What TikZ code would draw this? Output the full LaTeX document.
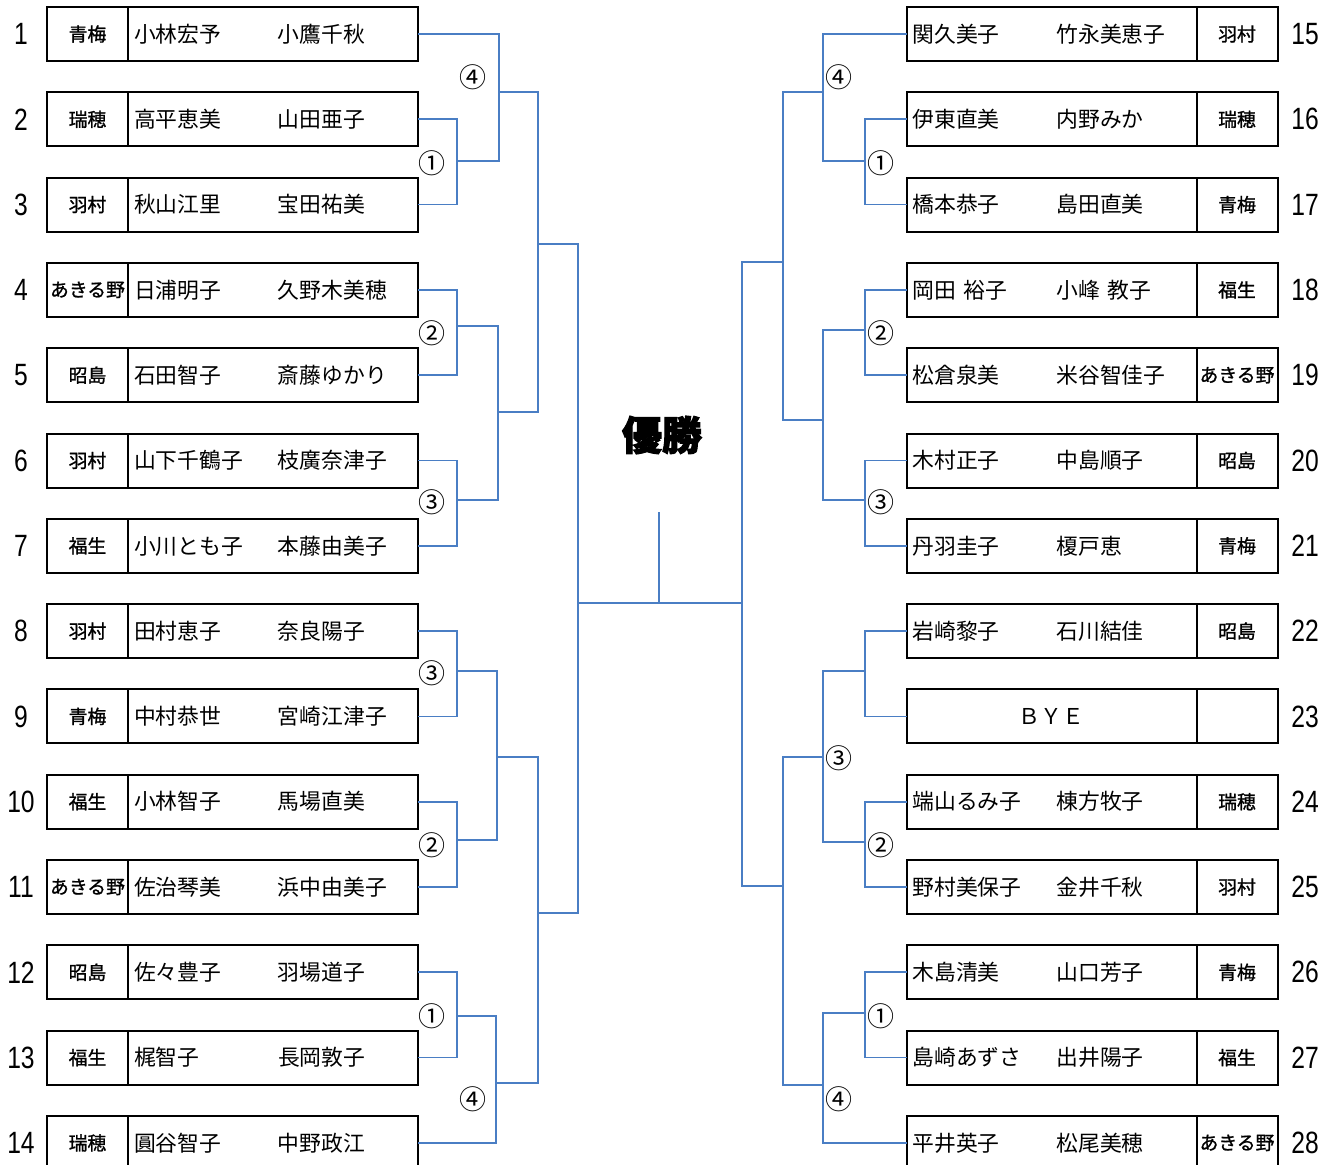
\documentclass[tikz,border=0pt]{standalone}
\usepackage{fontspec}
\setmainfont{Noto Sans CJK JP}
\newfontfamily\numfont[FakeStretch=0.8]{Liberation Sans}
\newfontfamily\clubfont[FakeBold=1.2]{Noto Sans CJK JP}
\newfontfamily\winfont[BoldFeatures={FakeBold=2.5}]{Noto Sans CJK JP}
\usetikzlibrary{positioning}
\definecolor{bracketblue}{RGB}{74,126,196}
\newcommand\pair[2]{\makebox[72pt][l]{#1}#2}

\begin{document}
\begin{tikzpicture}[x=0.5pt,y=-0.5pt,
  club/.style = {draw, line width=1pt, inner sep=0pt, outer sep=0pt,
    minimum width=40.5pt, minimum height=27pt,
    font=\clubfont\fontsize{9.4}{10}\selectfont},
  names/.style = {draw, line width=1pt, inner xsep=3pt, inner ysep=0pt,
    outer sep=0pt, text width=139pt, minimum height=27pt, align=left,
    font=\fontsize{10.9}{12}\selectfont},
  num/.style = {font=\numfont\fontsize{15.4}{16}\selectfont},
  rnd/.style = {font=\fontsize{13.5}{14}\selectfont, inner sep=0pt},
  bline/.style = {draw=bracketblue, line width=0.85pt},
  node distance=0pt]
\useasboundingbox (0,0) rectangle (1333,1164);

% left half
\node[club] (c1) at (87.5,34) {青梅};
\node[names, right=of c1] (n1) {\pair{小林宏予}{小鷹千秋}};
\node[num] (p1) at (21,34) {1};
\node[club] (c2) at (87.5,119.3) {瑞穂};
\node[names, right=of c2] (n2) {\pair{高平恵美}{山田亜子}};
\node[num] (p2) at (21,119.3) {2};
\node[club] (c3) at (87.5,204.6) {羽村};
\node[names, right=of c3] (n3) {\pair{秋山江里}{宝田祐美}};
\node[num] (p3) at (21,204.6) {3};
\node[club] (c4) at (87.5,289.9) {あきる野};
\node[names, right=of c4] (n4) {\pair{日浦明子}{久野木美穂}};
\node[num] (p4) at (21,289.9) {4};
\node[club] (c5) at (87.5,375.2) {昭島};
\node[names, right=of c5] (n5) {\pair{石田智子}{斎藤ゆかり}};
\node[num] (p5) at (21,375.2) {5};
\node[club] (c6) at (87.5,460.5) {羽村};
\node[names, right=of c6] (n6) {\pair{山下千鶴子}{枝廣奈津子}};
\node[num] (p6) at (21,460.5) {6};
\node[club] (c7) at (87.5,545.8) {福生};
\node[names, right=of c7] (n7) {\pair{小川とも子}{本藤由美子}};
\node[num] (p7) at (21,545.8) {7};
\node[club] (c8) at (87.5,631.1) {羽村};
\node[names, right=of c8] (n8) {\pair{田村恵子}{奈良陽子}};
\node[num] (p8) at (21,631.1) {8};
\node[club] (c9) at (87.5,716.4) {青梅};
\node[names, right=of c9] (n9) {\pair{中村恭世}{宮崎江津子}};
\node[num] (p9) at (21,716.4) {9};
\node[club] (c10) at (87.5,801.7) {福生};
\node[names, right=of c10] (n10) {\pair{小林智子}{馬場直美}};
\node[num] (p10) at (21,801.7) {10};
\node[club] (c11) at (87.5,887) {あきる野};
\node[names, right=of c11] (n11) {\pair{佐治琴美}{浜中由美子}};
\node[num] (p11) at (21,887) {11};
\node[club] (c12) at (87.5,972.3) {昭島};
\node[names, right=of c12] (n12) {\pair{佐々豊子}{羽場道子}};
\node[num] (p12) at (21,972.3) {12};
\node[club] (c13) at (87.5,1057.6) {福生};
\node[names, right=of c13] (n13) {\pair{梶智子}{長岡敦子}};
\node[num] (p13) at (21,1057.6) {13};
\node[club] (c14) at (87.5,1142.9) {瑞穂};
\node[names, right=of c14] (n14) {\pair{圓谷智子}{中野政江}};
\node[num] (p14) at (21,1142.9) {14};

% right half
\node[names] (n15) at (1051.5,34) {\pair{関久美子}{竹永美恵子}};
\node[club, right=of n15] (c15) {羽村};
\node[num] (p15) at (1305,34) {15};
\node[names] (n16) at (1051.5,119.3) {\pair{伊東直美}{内野みか}};
\node[club, right=of n16] (c16) {瑞穂};
\node[num] (p16) at (1305,119.3) {16};
\node[names] (n17) at (1051.5,204.6) {\pair{橋本恭子}{島田直美}};
\node[club, right=of n17] (c17) {青梅};
\node[num] (p17) at (1305,204.6) {17};
\node[names] (n18) at (1051.5,289.9) {\pair{岡田 裕子}{小峰 教子}};
\node[club, right=of n18] (c18) {福生};
\node[num] (p18) at (1305,289.9) {18};
\node[names] (n19) at (1051.5,375.2) {\pair{松倉泉美}{米谷智佳子}};
\node[club, right=of n19] (c19) {あきる野};
\node[num] (p19) at (1305,375.2) {19};
\node[names] (n20) at (1051.5,460.5) {\pair{木村正子}{中島順子}};
\node[club, right=of n20] (c20) {昭島};
\node[num] (p20) at (1305,460.5) {20};
\node[names] (n21) at (1051.5,545.8) {\pair{丹羽圭子}{榎戸恵}};
\node[club, right=of n21] (c21) {青梅};
\node[num] (p21) at (1305,545.8) {21};
\node[names] (n22) at (1051.5,631.1) {\pair{岩崎黎子}{石川結佳}};
\node[club, right=of n22] (c22) {昭島};
\node[num] (p22) at (1305,631.1) {22};
\node[names] (n23) at (1051.5,716.4) {\makebox[139pt]{ＢＹＥ}};
\node[club, right=of n23] (c23) {};
\node[num] (p23) at (1305,716.4) {23};
\node[names] (n24) at (1051.5,801.7) {\pair{端山るみ子}{棟方牧子}};
\node[club, right=of n24] (c24) {瑞穂};
\node[num] (p24) at (1305,801.7) {24};
\node[names] (n25) at (1051.5,887) {\pair{野村美保子}{金井千秋}};
\node[club, right=of n25] (c25) {羽村};
\node[num] (p25) at (1305,887) {25};
\node[names] (n26) at (1051.5,972.3) {\pair{木島清美}{山口芳子}};
\node[club, right=of n26] (c26) {青梅};
\node[num] (p26) at (1305,972.3) {26};
\node[names] (n27) at (1051.5,1057.6) {\pair{島崎あずさ}{出井陽子}};
\node[club, right=of n27] (c27) {福生};
\node[num] (p27) at (1305,1057.6) {27};
\node[names] (n28) at (1051.5,1142.9) {\pair{平井英子}{松尾美穂}};
\node[club, right=of n28] (c28) {あきる野};
\node[num] (p28) at (1305,1142.9) {28};

% bracket joints
\coordinate (jA) at (457,161);
\coordinate (jB) at (499,92);
\coordinate (jC) at (457,326);
\coordinate (jD) at (457,500);
\coordinate (jE) at (498,412);
\coordinate (jF) at (538,244);
\coordinate (jG) at (457,671);
\coordinate (jH) at (457,840);
\coordinate (jI) at (497,757);
\coordinate (jJ) at (457,1016);
\coordinate (jK) at (496,1083);
\coordinate (jL) at (538,913);
\coordinate (jM) at (578,603);
\coordinate (kA) at (865,161);
\coordinate (kB) at (823,92);
\coordinate (kC) at (865,330);
\coordinate (kD) at (865,500);
\coordinate (kE) at (823,420);
\coordinate (kF) at (783,262);
\coordinate (kG) at (865,671);
\coordinate (kH) at (865,842);
\coordinate (kI) at (823,757);
\coordinate (kJ) at (865,1013);
\coordinate (kK) at (823,1085);
\coordinate (kL) at (783,886);
\coordinate (kM) at (742,603);
\coordinate (top) at (659,512);

\draw[bline] (n2.east) -| (jA) |- (n3.east);
\draw[bline] (n1.east) -| (jB) |- (jA);
\draw[bline] (n4.east) -| (jC) |- (n5.east);
\draw[bline] (n6.east) -| (jD) |- (n7.east);
\draw[bline] (jC) -| (jE) |- (jD);
\draw[bline] (jB) -| (jF) |- (jE);
\draw[bline] (n8.east) -| (jG) |- (n9.east);
\draw[bline] (n10.east) -| (jH) |- (n11.east);
\draw[bline] (jG) -| (jI) |- (jH);
\draw[bline] (n12.east) -| (jJ) |- (n13.east);
\draw[bline] (jJ) -| (jK) |- (n14.east);
\draw[bline] (jI) -| (jL) |- (jK);
\draw[bline] (jF) -| (jM) |- (jL);
\draw[bline] (jM) -- (kM);
\draw[bline] (top) -- (top |- jM);
\draw[bline] (n16.west) -| (kA) |- (n17.west);
\draw[bline] (n15.west) -| (kB) |- (kA);
\draw[bline] (n18.west) -| (kC) |- (n19.west);
\draw[bline] (n20.west) -| (kD) |- (n21.west);
\draw[bline] (kC) -| (kE) |- (kD);
\draw[bline] (kB) -| (kF) |- (kE);
\draw[bline] (n22.west) -| (kG) |- (n23.west);
\draw[bline] (n24.west) -| (kH) |- (n25.west);
\draw[bline] (kG) -| (kI) |- (kH);
\draw[bline] (n26.west) -| (kJ) |- (n27.west);
\draw[bline] (kJ) -| (kK) |- (n28.west);
\draw[bline] (kI) -| (kL) |- (kK);
\draw[bline] (kF) -| (kM) |- (kL);

% round numbers
\node[rnd] (rA) at (432,163) {①};
\node[rnd] (rB) at (473,77) {④};
\node[rnd] (rC) at (432,333) {②};
\node[rnd] (rD) at (432,502) {③};
\node[rnd] (rG) at (432,673) {③};
\node[rnd] (rH) at (432,845) {②};
\node[rnd] (rJ) at (432,1016) {①};
\node[rnd] (rK) at (473,1099) {④};
\node[rnd] (sA) at (881,163) {①};
\node[rnd] (sB) at (839,77) {④};
\node[rnd] (sC) at (881,333) {②};
\node[rnd] (sD) at (881,502) {③};
\node[rnd] (sI) at (839,758) {③};
\node[rnd] (sH) at (881,845) {②};
\node[rnd] (sJ) at (881,1016) {①};
\node[rnd] (sK) at (839,1099) {④};

\node[font=\winfont\fontsize{20}{22}\selectfont\bfseries] (win) at (662,435) {優勝};
\end{tikzpicture}
\end{document}
